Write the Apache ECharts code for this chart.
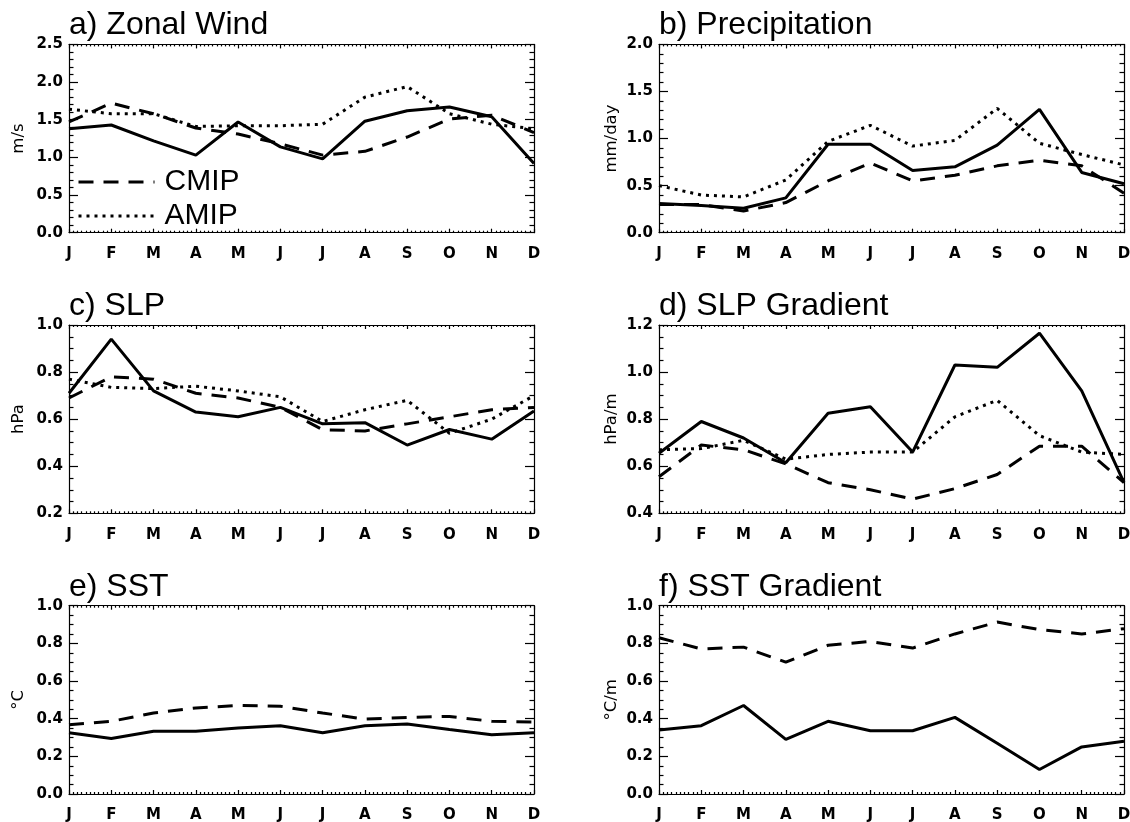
<!DOCTYPE html>
<html>
<head>
<meta charset="utf-8">
<script src="https://cdn.jsdelivr.net/npm/echarts@6/dist/echarts.min.js"></script>
<style>
  html, body { margin: 0; padding: 0; background: #fff; }
  #chart { width: 1130px; height: 822px; }
</style>
</head>
<body>
<div id="chart"></div>
<script>
var months = ['J', 'F', 'M', 'A', 'M', 'J', 'J', 'A', 'S', 'O', 'N', 'D'];

// a) zonal wind (m/s)
var windObs  = [1.38, 1.43, 1.22, 1.03, 1.47, 1.14, 0.98, 1.48, 1.62, 1.67, 1.54, 0.92];
var windCmip = [1.47, 1.72, 1.58, 1.39, 1.31, 1.18, 1.03, 1.08, 1.27, 1.51, 1.56, 1.33];
var windAmip = [1.64, 1.58, 1.58, 1.41, 1.42, 1.42, 1.44, 1.80, 1.94, 1.58, 1.44, 1.38];

// b) precipitation (mm/day)
var precipObs  = [0.31, 0.29, 0.26, 0.37, 0.94, 0.94, 0.66, 0.70, 0.93, 1.31, 0.64, 0.52];
var precipCmip = [0.30, 0.30, 0.23, 0.32, 0.55, 0.74, 0.55, 0.61, 0.71, 0.77, 0.71, 0.42];
var precipAmip = [0.50, 0.40, 0.38, 0.56, 0.97, 1.14, 0.92, 0.98, 1.32, 0.95, 0.83, 0.72];

// c) SLP (hPa)
var slpObs  = [0.71, 0.94, 0.72, 0.63, 0.61, 0.65, 0.58, 0.585, 0.49, 0.556, 0.515, 0.635];
var slpCmip = [0.69, 0.78, 0.77, 0.71, 0.69, 0.65, 0.555, 0.55, 0.58, 0.61, 0.64, 0.65];
var slpAmip = [0.77, 0.735, 0.73, 0.74, 0.72, 0.695, 0.59, 0.64, 0.68, 0.54, 0.60, 0.70];

// d) SLP gradient (hPa/m)
var slpGradObs  = [0.655, 0.79, 0.72, 0.615, 0.825, 0.853, 0.66, 1.03, 1.02, 1.165, 0.92, 0.53];
var slpGradCmip = [0.555, 0.69, 0.67, 0.61, 0.53, 0.50, 0.46, 0.505, 0.565, 0.685, 0.685, 0.53];
var slpGradAmip = [0.67, 0.675, 0.71, 0.63, 0.65, 0.66, 0.66, 0.81, 0.88, 0.73, 0.66, 0.65];

// e) SST
var sstObs  = [0.325, 0.295, 0.333, 0.333, 0.35, 0.363, 0.325, 0.363, 0.372, 0.342, 0.315, 0.325];
var sstCmip = [0.368, 0.386, 0.43, 0.457, 0.47, 0.466, 0.43, 0.398, 0.407, 0.412, 0.386, 0.382];

// f) SST gradient
var sstGradObs  = [0.34, 0.363, 0.47, 0.29, 0.386, 0.336, 0.336, 0.407, 0.27, 0.13, 0.25, 0.28];
var sstGradCmip = [0.83, 0.77, 0.78, 0.70, 0.79, 0.81, 0.775, 0.85, 0.913, 0.873, 0.85, 0.878];

var panels = [
  { title: 'a) Zonal Wind',    unit: 'm/s',    min: 0,   max: 2.5, step: 0.5, minor: 5, obs: windObs,    cmip: windCmip,    amip: windAmip },
  { title: 'b) Precipitation', unit: 'mm/day', min: 0,   max: 2.0, step: 0.5, minor: 5, obs: precipObs,  cmip: precipCmip,  amip: precipAmip },
  { title: 'c) SLP',           unit: 'hPa',    min: 0.2, max: 1.0, step: 0.2, minor: 4, obs: slpObs,     cmip: slpCmip,     amip: slpAmip },
  { title: 'd) SLP Gradient',  unit: 'hPa/m',  min: 0.4, max: 1.2, step: 0.2, minor: 4, obs: slpGradObs, cmip: slpGradCmip, amip: slpGradAmip },
  { title: 'e) SST',           unit: '°C',     min: 0,   max: 1.0, step: 0.2, minor: 4, obs: sstObs,     cmip: sstCmip,     amip: null },
  { title: 'f) SST Gradient',  unit: '°C/m',   min: 0,   max: 1.0, step: 0.2, minor: 4, obs: sstGradObs, cmip: sstGradCmip, amip: null }
];

var colLeft = [69, 659];
var rowTop = [44.4, 325, 605.7];
var plotW = 465, plotH = 188.3;

var labelFont = { fontFamily: 'DejaVu Sans', fontWeight: 'bold', fontSize: 15, color: '#000' };
var black = { color: '#000', width: 1.2 };

function pairs(arr) {
  return arr.map(function (v, i) { return [i, v]; });
}

// one legend box per entry, stacked inside panel a
function legendBox(name, top) {
  return {
    data: [name],
    orient: 'vertical',
    left: 77,
    top: top,
    padding: 0,
    itemWidth: 76,
    itemHeight: 14,
    itemStyle: { opacity: 0 },
    lineStyle: { width: 3 },
    selectedMode: false,
    textStyle: { fontFamily: 'Liberation Sans', fontSize: 30, color: '#000', padding: [0, 0, 0, 5] }
  };
}

var option = {
  backgroundColor: '#fff',
  animation: false,
  title: [],
  grid: [],
  xAxis: [],
  yAxis: [],
  series: [],
  legend: [legendBox('CMIP', 167), legendBox('AMIP', 201)]
};

panels.forEach(function (p, k) {
  var col = k % 2, row = Math.floor(k / 2);
  var left = colLeft[col], top = rowTop[row];

  option.title.push({
    text: p.title,
    left: left,
    top: top - 35,
    padding: 0,
    textStyle: { fontFamily: 'Liberation Sans', fontWeight: 'normal', fontSize: 32, color: '#000' }
  });

  option.grid.push({ left: left, top: top, width: plotW, height: plotH, outerBoundsMode: 'none' });

  // bottom and top month axes
  [false, true].forEach(function (isTop) {
    option.xAxis.push({
      type: 'value',
      gridIndex: k,
      position: isTop ? 'top' : 'bottom',
      min: 0, max: 11, interval: 1,
      axisLine: { show: true, onZero: false, lineStyle: black },
      axisTick: { show: true, inside: true, length: 4, lineStyle: black },
      minorTick: { show: true, splitNumber: 10, length: 2, lineStyle: black },
      splitLine: { show: false },
      axisLabel: isTop ? { show: false } : Object.assign({
        margin: 14,
        formatter: function (v) { return months[v]; }
      }, labelFont)
    });
  });

  // left and right value axes
  [false, true].forEach(function (isRight) {
    option.yAxis.push({
      type: 'value',
      gridIndex: k,
      position: isRight ? 'right' : 'left',
      min: p.min, max: p.max, interval: p.step,
      name: isRight ? '' : p.unit,
      nameLocation: 'middle',
      nameGap: col === 0 ? 42 : 39,
      nameTextStyle: { fontFamily: 'DejaVu Sans', fontWeight: 'normal', fontSize: 16.5, color: '#000' },
      axisLine: { show: true, onZero: false, lineStyle: black },
      axisTick: { show: true, inside: true, length: 9, lineStyle: black },
      minorTick: { show: true, splitNumber: p.minor, length: 4.5, lineStyle: black },
      splitLine: { show: false },
      axisLabel: isRight ? { show: false } : Object.assign({
        margin: 6,
        formatter: function (v) { return v.toFixed(1); }
      }, labelFont)
    });
  });

  var xi = k * 2, yi = k * 2;
  option.series.push({
    name: 'Obs', type: 'line', xAxisIndex: xi, yAxisIndex: yi,
    data: pairs(p.obs), symbol: 'none', z: 3,
    itemStyle: { color: '#000' },
    lineStyle: { color: '#000', width: 3, type: 'solid' }
  });
  option.series.push({
    name: 'CMIP', type: 'line', xAxisIndex: xi, yAxisIndex: yi,
    data: pairs(p.cmip), symbol: 'none', z: 2,
    itemStyle: { color: '#000' },
    lineStyle: { color: '#000', width: 3, type: [15, 10] }
  });
  if (p.amip) {
    option.series.push({
      name: 'AMIP', type: 'line', xAxisIndex: xi, yAxisIndex: yi,
      data: pairs(p.amip), symbol: 'none', z: 2,
      itemStyle: { color: '#000' },
      lineStyle: { color: '#000', width: 3, type: [3, 5] }
    });
  }
});

var chart = echarts.init(document.getElementById('chart'), null, { renderer: 'canvas' });
chart.setOption(option);
</script>
</body>
</html>
